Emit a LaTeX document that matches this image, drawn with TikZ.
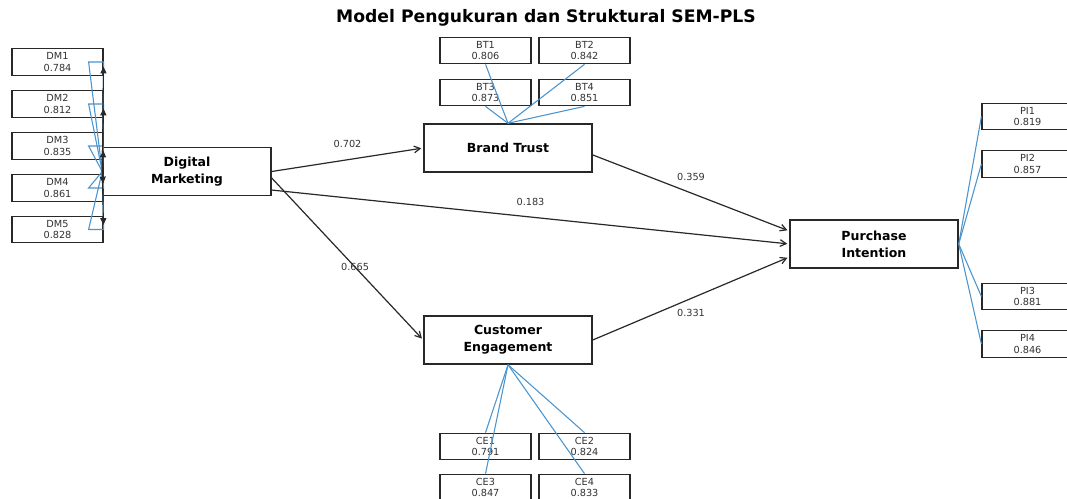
\documentclass[tikz,border=0pt]{standalone}
\usepackage{fontspec}
\setmainfont{DejaVu Sans}
\usetikzlibrary{arrows.meta}
\definecolor{loadblue}{RGB}{75,148,205}
\definecolor{edgegray}{RGB}{40,40,40}
\tikzset{
  latent/.style={draw=edgegray, line width=1.1pt, minimum width=126pt, minimum height=36pt,
    inner sep=0pt, align=center, font=\fontsize{9.4}{12.75}\selectfont\bfseries},
  indicator/.style={draw=edgegray, line width=0.9pt, minimum width=68.25pt, minimum height=19.9pt,
    inner sep=0pt, align=center, font=\fontsize{7.3}{8.8}\selectfont, text=black!80},
  loading/.style={loadblue, line width=0.8pt},
  inner/.style={-{Straight Barb[length=4.5pt,width=5pt]}, edgegray, line width=0.9pt, shorten >=1.5pt},
  outer/.style={-{Triangle[length=5pt,width=4.5pt]}, edgegray, line width=0.8pt, shorten >=3.5pt},
  coef/.style={font=\fontsize{7.3}{8.8}\selectfont, text=black!80, inner sep=1pt}
}
\begin{document}
\begin{tikzpicture}[x=0.75pt,y=-0.75pt]
\clip (0,0) rectangle (1067,499);
\fill[white] (0,0) rectangle (1067,499);
\node (title) at (546,18) {\fontsize{12.9}{15}\selectfont\bfseries Model Pengukuran dan Struktural SEM-PLS};
% latent variables
\node[latent] (dm) at (187,171.5) {Digital\\Marketing};
\node[latent] (bt) at (508,148) {Brand Trust};
\node[latent] (ce) at (508,340) {Customer\\Engagement};
\node[latent] (pi) at (874,244) {Purchase\\Intention};
% indicators
\node[indicator] (dm1) at (57.5,62) {DM1\\0.784};
\node[indicator] (dm2) at (57.5,104) {DM2\\0.812};
\node[indicator] (dm3) at (57.5,146) {DM3\\0.835};
\node[indicator] (dm4) at (57.5,188) {DM4\\0.861};
\node[indicator] (dm5) at (57.5,229.5) {DM5\\0.828};
\node[indicator] (bt1) at (485.5,50.5) {BT1\\0.806};
\node[indicator] (bt2) at (584.5,50.5) {BT2\\0.842};
\node[indicator] (bt3) at (485.5,92.5) {BT3\\0.873};
\node[indicator] (bt4) at (584.5,92.5) {BT4\\0.851};
\node[indicator] (ce1) at (485.5,446.5) {CE1\\0.791};
\node[indicator] (ce2) at (584.5,446.5) {CE2\\0.824};
\node[indicator] (ce3) at (485.5,487.5) {CE3\\0.847};
\node[indicator] (ce4) at (584.5,487.5) {CE4\\0.833};
\node[indicator] (pi1) at (1027.5,116.5) {PI1\\0.819};
\node[indicator] (pi2) at (1027.5,164) {PI2\\0.857};
\node[indicator] (pi3) at (1027.5,296.5) {PI3\\0.881};
\node[indicator] (pi4) at (1027.5,344) {PI4\\0.846};
% outer loadings
\draw[loading] (dm.west) -- (dm1.east) -- ++(-15,0) -- cycle;
\draw[loading] (dm.west) -- (dm2.east) -- ++(-15,0) -- cycle;
\draw[loading] (dm.west) -- (dm3.east) -- ++(-15,0) -- cycle;
\draw[loading] (dm.west) -- (dm4.east) -- ++(-15,0) -- cycle;
\draw[loading] (dm.west) -- (dm5.east) -- ++(-15,0) -- cycle;
\draw[outer] (dm.west) -- (dm1.east);
\draw[outer] (dm.west) -- (dm2.east);
\draw[outer] (dm.west) -- (dm3.east);
\draw[outer] (dm.west) -- (dm4.east);
\draw[outer] (dm.west) -- (dm5.east);
\draw[loading] (bt1.south) -- (bt.north);
\draw[loading] (bt2.south) -- (bt.north);
\draw[loading] (bt3.south) -- (bt.north);
\draw[loading] (bt4.south) -- (bt.north);
\draw[loading] (ce.south) -- (ce1.north);
\draw[loading] (ce.south) -- (ce2.north);
\draw[loading] (ce.south) -- (ce3.north);
\draw[loading] (ce.south) -- (ce4.north);
\draw[loading] (pi.east) -- (pi1.west);
\draw[loading] (pi.east) -- (pi2.west);
\draw[loading] (pi.east) -- (pi3.west);
\draw[loading] (pi.east) -- (pi4.west);
% structural paths
\draw[inner] (dm.east) -- (bt.west) node[coef,midway,yshift=12pt] {0.702};
\draw[inner] ([yshift=-4.9pt]dm.east) -- (ce.west) node[coef,pos=0.55] {0.665};
\draw[inner] ([yshift=-13.9pt]dm.east) -- (pi.west) node[coef,midway,yshift=11.5pt] {0.183};
\draw[inner] ([yshift=-5.2pt]bt.east) -- ([yshift=9.75pt]pi.west) node[coef,midway,yshift=12pt] {0.359};
\draw[inner] (ce.east) -- ([yshift=-9.75pt]pi.west) node[coef,midway,yshift=-10.5pt] {0.331};
\end{tikzpicture}
\end{document}
